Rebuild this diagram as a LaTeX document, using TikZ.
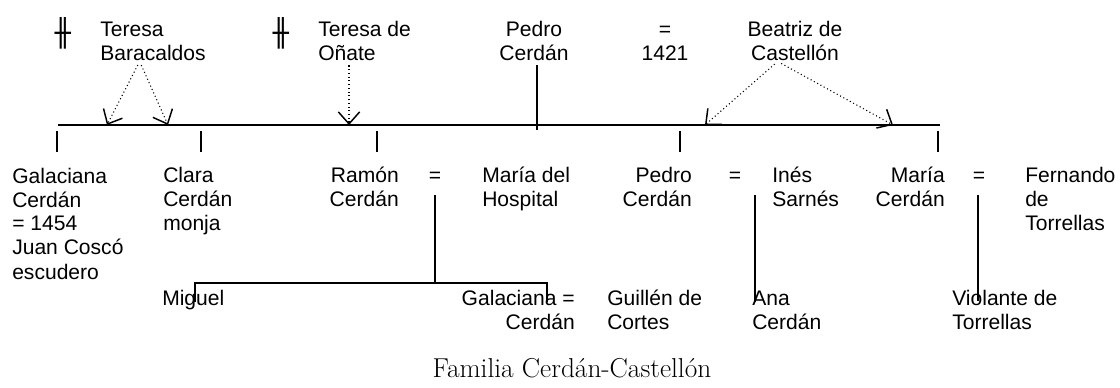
\documentclass[tikz,border=0pt]{standalone}
\usepackage{fontspec}
\usepackage{tikz}
\usetikzlibrary{arrows.meta}
\newfontfamily\arialfont{Liberation Sans}
\newfontfamily\symbfont{DejaVu Sans}
\newcommand\namefont{\arialfont\fontsize{15.8}{18}\selectfont}
\newcommand\titlefont{\rmfamily\fontsize{20.5}{24}\selectfont}
\tikzset{
  person/.style={
    font=\namefont,
    inner sep=0pt
  },
  lperson/.style={person, align=left, anchor=base west},
  rperson/.style={person, align=right, anchor=base east},
  cperson/.style={person, align=center, anchor=base},
  crossbar/.style={font=\symbfont\fontsize{20}{22}\selectfont, inner sep=0pt},
  mainline/.style={line width=1.6pt},
  tie/.style={line width=1.3pt},
  bracket/.style={line width=1pt},
  dotflow/.style={dotted, line width=0.8pt, shorten <=3pt,
    -{Straight Barb[length=9pt,width=16pt,line width=1.1pt]}}
}

\begin{document}
\begin{tikzpicture}[x=0.75pt,y=-0.75pt]
  \useasboundingbox (0,0) rectangle (1120,388);

  % parents (nodes placed at the baseline of their last line)
  \node[crossbar] (barB) at (63,33) {╫};
  \node[lperson] (teresaB) at (100,61) {Teresa\\Baracaldos};
  \node[crossbar] (barO) at (281,33) {╫};
  \node[lperson] (teresaO) at (318,61) {Teresa de\\Oñate};
  \node[cperson] (pedroF) at (534,61) {Pedro\\Cerdán};
  \node[cperson] (wedding) at (665,61) {=\\1421};
  \node[cperson] (beatriz) at (795,61) {Beatriz de\\Castellón};

  % children
  \node[lperson] (galaciana) at (12,279) {Galaciana\\Cerdán\\= 1454\\Juan Coscó\\escudero};
  \node[lperson] (clara) at (163,231) {Clara\\Cerdán\\monja};
  \node[rperson] (ramon) at (399,207) {Ramón\\Cerdán};
  \node[cperson] (eqR) at (435,183) {=};
  \node[lperson] (mariaH) at (482,207) {María del\\Hospital};
  \node[rperson] (pedro) at (692,207) {Pedro\\Cerdán};
  \node[cperson] (eqP) at (735,183) {=};
  \node[lperson] (ines) at (772,207) {Inés\\Sarnés};
  \node[rperson] (maria) at (945,207) {María\\Cerdán};
  \node[cperson] (eqM) at (979,183) {=};
  \node[lperson] (fernando) at (1025,231) {Fernando\\de\\Torrellas};

  % grandchildren
  \node[lperson] (miguel) at (162,305) {Miguel};
  \node[rperson] (galcerdan) at (575,329) {Galaciana =\\Cerdán};
  \node[lperson] (guillen) at (607,329) {Guillén de\\Cortes};
  \node[lperson] (ana) at (752,329) {Ana\\Cerdán};
  \node[lperson] (violante) at (952,329) {Violante de\\Torrellas};

  \node[anchor=base, inner sep=0pt, font=\titlefont] (title) at (572,377)
    {Familia Cerdán-Castellón};

  % line of the children
  \coordinate (lineL) at (58,125);
  \coordinate (lineR) at (940,125);
  \coordinate (fatherFoot) at (537,130);
  \coordinate (galArr) at (107,125);
  \coordinate (claArr) at (168,125);
  \coordinate (ramArr) at (349,125);
  \coordinate (pedArr) at (705,125);
  \coordinate (marArr) at (893,125);
  \draw[mainline] (lineL) -- (lineR);
  \draw[tie] ([yshift=-3pt]pedroF.south -| fatherFoot) -- (fatherFoot);

  \foreach \tx in {57,201,377,680,938}
    \draw[tie] (\tx,131) -- ++(0,21);

  \draw[dotflow] ([xshift=-10pt]teresaB.south) -- (galArr);
  \draw[dotflow] ([xshift=-10pt]teresaB.south) -- (claArr);
  \draw[dotflow] (teresaO.south -| ramArr) -- (ramArr);
  \draw[dotflow] ([xshift=-13pt]beatriz.south) -- (pedArr);
  \draw[dotflow] ([xshift=-13pt]beatriz.south) -- (marArr);

  % descendants
  \coordinate (kidsL) at (195,283);
  \coordinate (kidsR) at (547,283);
  \coordinate (anaTop) at (755,195);
  \coordinate (violTop) at (978,195);
  \draw[tie] ([yshift=-9pt]eqR.base) -- (eqR.base |- kidsL);
  \draw[bracket] ([yshift=2pt]kidsL |- miguel.base) -- (kidsL) -- (kidsR)
    -- ([yshift=2pt]kidsR |- miguel.base);
  \draw[tie] (anaTop) -- ([yshift=2pt]anaTop |- miguel.base);
  \draw[tie] (violTop) -- ([yshift=3pt]violTop |- miguel.base);
\end{tikzpicture}
\end{document}
